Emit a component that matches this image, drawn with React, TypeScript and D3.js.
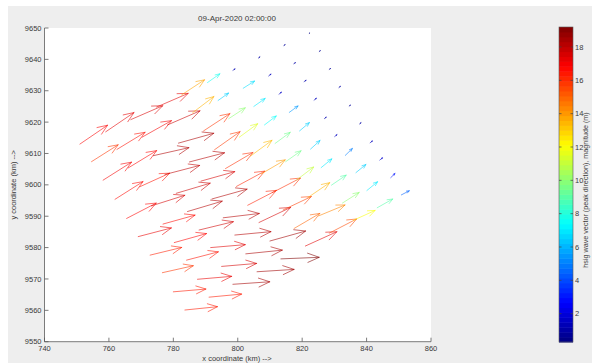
import React from 'react';
import * as d3 from 'd3';

// Wave vector field on a curvilinear 10 x 10 model grid (km), one row per grid line.
const gridX: number[][] = [
  [751.0, 759.0, 766.8, 774.8, 782.6, 790.6, 798.5, 806.4, 814.3, 822.2],
  [754.6, 762.5, 770.3, 778.2, 786.0, 793.9, 801.7, 809.6, 817.4, 825.3],
  [758.2, 766.0, 773.8, 781.6, 789.4, 797.2, 805.0, 812.8, 820.6, 828.4],
  [761.9, 769.6, 777.4, 785.0, 792.8, 800.5, 808.3, 816.0, 823.7, 831.4],
  [765.5, 773.2, 780.9, 788.6, 796.2, 804.0, 811.6, 819.2, 826.9, 834.6],
  [769.1, 776.8, 784.4, 792.0, 799.6, 807.3, 814.9, 822.6, 830.1, 837.8],
  [772.8, 780.3, 788.0, 795.5, 803.1, 810.7, 818.2, 825.9, 833.4, 841.1],
  [776.6, 784.1, 791.6, 799.1, 806.6, 814.1, 821.7, 829.1, 836.7, 844.1],
  [780.0, 787.5, 795.0, 802.5, 810.0, 817.5, 825.1, 832.5, 840.1, 847.5],
  [783.6, 791.1, 798.5, 806.0, 813.4, 821.0, 828.4, 835.9, 843.3, 850.8],
];

const gridY: number[][] = [
  [9613.0, 9616.9, 9620.8, 9624.8, 9628.7, 9632.6, 9636.5, 9640.4, 9644.4, 9648.3],
  [9607.4, 9611.3, 9615.2, 9619.1, 9623.0, 9626.9, 9630.8, 9634.7, 9638.6, 9642.5],
  [9601.5, 9605.4, 9609.3, 9613.3, 9617.2, 9621.1, 9625.0, 9628.9, 9632.9, 9636.8],
  [9595.4, 9599.4, 9603.3, 9607.3, 9611.2, 9615.2, 9619.1, 9623.1, 9627.0, 9631.0],
  [9589.3, 9593.3, 9597.3, 9601.2, 9605.2, 9609.2, 9613.2, 9617.2, 9621.1, 9625.1],
  [9583.5, 9587.5, 9591.5, 9595.5, 9599.5, 9603.5, 9607.4, 9611.4, 9615.4, 9619.4],
  [9577.6, 9581.6, 9585.6, 9589.5, 9593.5, 9597.5, 9601.5, 9605.5, 9609.4, 9613.4],
  [9572.0, 9576.0, 9580.0, 9584.0, 9588.0, 9592.0, 9595.9, 9599.9, 9603.9, 9607.9],
  [9565.9, 9569.9, 9574.0, 9578.0, 9582.1, 9586.1, 9590.1, 9594.2, 9598.2, 9602.3],
  [9560.1, 9564.2, 9568.3, 9572.3, 9576.4, 9580.5, 9584.6, 9588.7, 9592.7, 9596.8],
];

// Significant wave height (m) at each grid node.
const magnitude: number[][] = [
  [16.9, 17.3, 17.5, 17.3, 13.8, 7.7, 1.3, 1.0, 0.8, 0.3],
  [15.9, 16.6, 17.0, 17.8, 13.5, 6.5, 6.8, 1.5, 1.0, 0.7],
  [17.0, 16.8, 18.3, 18.4, 15.9, 10.0, 7.0, 1.6, 1.2, 0.8],
  [16.7, 16.5, 18.0, 18.2, 15.8, 11.5, 7.5, 5.5, 1.5, 1.0],
  [16.8, 17.6, 17.8, 17.6, 16.0, 13.4, 9.5, 6.5, 1.2, 0.8],
  [17.2, 16.7, 18.2, 18.3, 16.2, 14.0, 9.5, 6.5, 1.5, 1.0],
  [16.3, 16.8, 17.7, 18.2, 16.3, 16.0, 11.0, 7.0, 5.0, 1.5],
  [15.9, 16.5, 17.4, 18.2, 17.6, 15.7, 13.5, 9.0, 6.5, 1.8],
  [16.4, 17.2, 17.6, 18.4, 18.6, 15.0, 14.4, 10.0, 7.0, 3.0],
  [16.4, 16.4, 18.5, 18.6, 19.2, 17.4, 15.5, 12.0, 9.0, 4.5],
];

// Peak direction (degrees, counter-clockwise from east) at each grid node.
const direction: number[][] = [
  [35, 35, 24, 24, 34, 36, 35, 40, 35, 40],
  [33, 32, 30, 24, 38, 36, 33, 40, 35, 40],
  [33, 32, 13, 16, 34, 34, 36, 40, 35, 35],
  [33, 25, 15, 15, 36, 37, 38, 37, 40, 40],
  [28, 18, 17, 16, 31, 37, 37, 41, 40, 40],
  [15, 16, 17, 16, 29, 31, 36, 43, 40, 40],
  [14, 16, 14, 7, 28, 28, 38, 40, 45, 40],
  [13, 15, 5, 5.5, 26, 26, 35, 35, 40, 40],
  [5, 5, 5, 6, 16, 31, 23, 33, 40, 45],
  [6, 5.5, 4, 3.7, 2.4, 25, 28, 25, 30, 28],
];

const xTicks = [740, 760, 780, 800, 820, 840, 860];
const yTicks = [9550, 9560, 9570, 9580, 9590, 9600, 9610, 9620, 9630, 9640, 9650];
const colorTicks = [2, 4, 6, 8, 10, 12, 14, 16, 18];

const titleText = '09-Apr-2020 02:00:00';
const xLabel = 'x coordinate (km) -->';
const yLabel = 'y coordinate (km) -->';
const colorLabel = 'hsig wave vector (peak direction), magnitude (m)';

// km of arrow per metre of wave height
const ARROW_SCALE = 0.62;
const HEAD_ALPHA = 0.3;
const HEAD_BETA = 0.4;

function jet(t: number): string {
  const c = (v: number) => Math.max(0, Math.min(1, v));
  const r = c(1.5 - Math.abs(4 * t - 3));
  const g = c(1.5 - Math.abs(4 * t - 2));
  const b = c(1.5 - Math.abs(4 * t - 1));
  return d3.rgb(r * 255, g * 255, b * 255).formatHex();
}

const FONT = "'Liberation Sans', Arial, Helvetica, sans-serif";
const TEXT = '#3a3a3a';
const AXIS = '#5a5a5a';

export default function App() {
  const W = 592;
  const H = 363;
  const plot = { left: 44.5, right: 431, top: 28, bottom: 341.7 };
  const bar = { left: 559, right: 573, top: 27, bottom: 342 };

  const x = d3.scaleLinear().domain([740, 860]).range([plot.left, plot.right]);
  const y = d3.scaleLinear().domain([9550, 9650]).range([plot.bottom, plot.top]);

  const vectors = gridX.flatMap((row, i) =>
    row.map((gx, j) => ({
      x: gx,
      y: gridY[i][j],
      m: magnitude[i][j],
      d: direction[i][j],
    }))
  );
  const [cMin, cMax] = d3.extent(vectors, (v) => v.m) as [number, number];
  const cNorm = d3.scaleLinear().domain([cMin, cMax]).range([0, 1]).clamp(true);
  const cbY = d3.scaleLinear().domain([cMin, cMax]).range([bar.bottom, bar.top]);

  const arrows = vectors.map((v, k) => {
    const rad = (v.d * Math.PI) / 180;
    const u = v.m * ARROW_SCALE * Math.cos(rad);
    const w = v.m * ARROW_SCALE * Math.sin(rad);
    const x0 = x(v.x);
    const y0 = y(v.y);
    const x1 = x(v.x + u);
    const y1 = y(v.y + w);
    const du = x1 - x0;
    const dv = y1 - y0;
    const b1x = x1 - HEAD_ALPHA * (du + HEAD_BETA * dv);
    const b1y = y1 - HEAD_ALPHA * (dv - HEAD_BETA * du);
    const b2x = x1 - HEAD_ALPHA * (du - HEAD_BETA * dv);
    const b2y = y1 - HEAD_ALPHA * (dv + HEAD_BETA * du);
    const p = d3.path();
    p.moveTo(x0, y0);
    p.lineTo(x1, y1);
    p.moveTo(b1x, b1y);
    p.lineTo(x1, y1);
    p.lineTo(b2x, b2y);
    return <path key={k} d={p.toString()} stroke={jet(cNorm(v.m))} />;
  });

  const nBands = 64;
  const bands = d3.range(nBands).map((i) => {
    const lo = cMin + ((cMax - cMin) * i) / nBands;
    const hi = cMin + ((cMax - cMin) * (i + 1)) / nBands;
    return (
      <rect
        key={i}
        x={bar.left}
        y={cbY(hi)}
        width={bar.right - bar.left}
        height={cbY(lo) - cbY(hi) + 0.5}
        fill={jet((i + 0.5) / nBands)}
      />
    );
  });

  return (
    <svg
      width={W}
      height={H}
      style={{ position: 'absolute', left: 0, top: 0, display: 'block' }}
      fontFamily={FONT}
    >
      <rect x={0} y={0} width={W} height={H} fill="#ffffff" />
      <rect x={8} y={6} width={W - 8} height={H - 6} fill="#eeeeee" />
      <rect
        x={plot.left}
        y={plot.top}
        width={plot.right - plot.left}
        height={plot.bottom - plot.top}
        fill="#ffffff"
      />

      <text x={237} y={21} fontSize={8} fill={TEXT} textAnchor="middle">
        {titleText}
      </text>

      <g fill="none" strokeWidth={1} strokeOpacity={0.58} strokeLinecap="round" strokeLinejoin="round">
        {arrows}
      </g>

      {/* axes */}
      <g stroke={AXIS} strokeWidth={0.8} fill="none">
        <line x1={plot.left} x2={plot.left} y1={plot.top} y2={plot.bottom} />
        <line x1={plot.left} x2={plot.right} y1={plot.bottom} y2={plot.bottom} />
        {yTicks.map((t) => (
          <line key={t} x1={plot.left} x2={plot.left + 4} y1={y(t)} y2={y(t)} />
        ))}
        {xTicks.map((t) => (
          <line key={t} x1={x(t)} x2={x(t)} y1={plot.bottom} y2={plot.bottom - 4} />
        ))}
      </g>
      <g fontSize={7.5} fill={TEXT}>
        {yTicks.map((t) => (
          <text key={t} x={plot.left - 3} y={y(t)} dy="0.35em" textAnchor="end">
            {t}
          </text>
        ))}
        {xTicks.map((t) => (
          <text key={t} x={x(t)} y={350.5} textAnchor="middle">
            {t}
          </text>
        ))}
      </g>
      <text x={237} y={361} fontSize={7.5} fill={TEXT} textAnchor="middle">
        {xLabel}
      </text>
      <text
        transform={`translate(16, ${(plot.top + plot.bottom) / 2}) rotate(-90)`}
        fontSize={7.5}
        fill={TEXT}
        textAnchor="middle"
      >
        {yLabel}
      </text>

      {/* colour bar */}
      <g>{bands}</g>
      <rect
        x={bar.left}
        y={bar.top}
        width={bar.right - bar.left}
        height={bar.bottom - bar.top}
        fill="none"
        stroke={AXIS}
        strokeWidth={0.6}
      />
      <g stroke="#444444" strokeWidth={0.7}>
        {colorTicks.map((t) => (
          <g key={t}>
            <line x1={bar.left} x2={bar.left + 2.5} y1={cbY(t)} y2={cbY(t)} />
            <line x1={bar.right - 2.5} x2={bar.right} y1={cbY(t)} y2={cbY(t)} />
          </g>
        ))}
      </g>
      <g fontSize={7.5} fill={TEXT}>
        {colorTicks.map((t) => (
          <text key={t} x={bar.right + 2} y={cbY(t)} dy="0.35em">
            {t}
          </text>
        ))}
      </g>
      <text
        transform={`translate(588, 190) rotate(-90)`}
        fontSize={7.2}
        fill={TEXT}
        textAnchor="middle"
      >
        {colorLabel}
      </text>
    </svg>
  );
}
